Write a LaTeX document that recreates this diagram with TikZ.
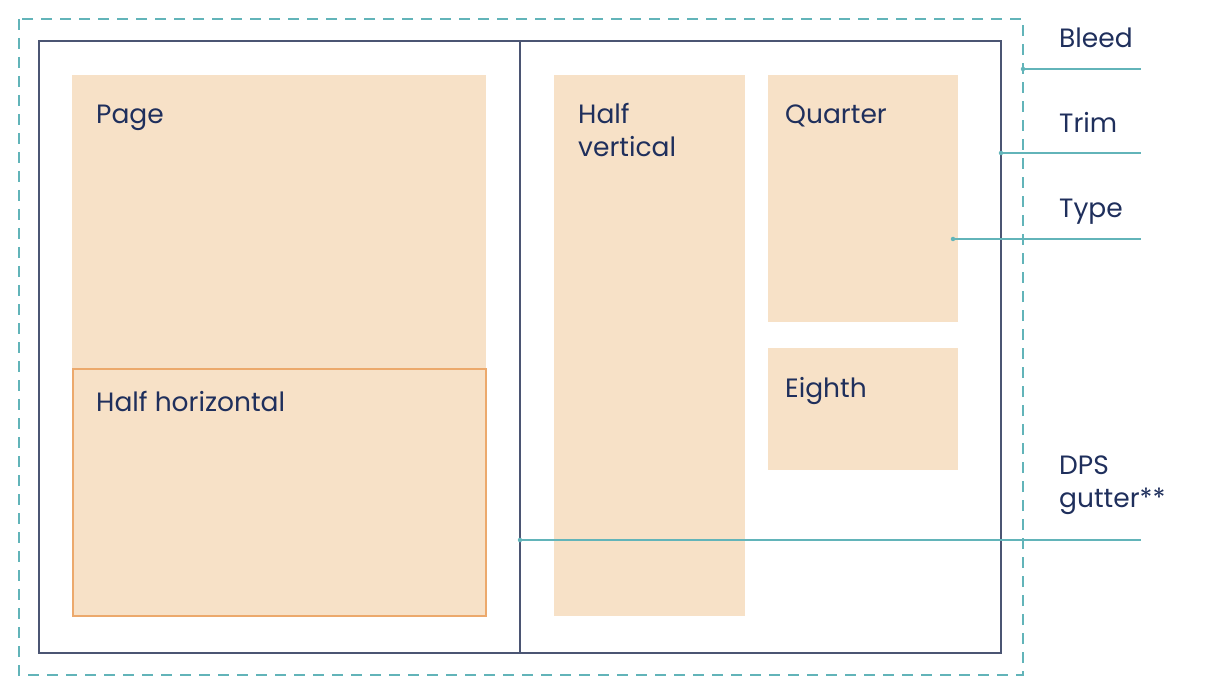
\documentclass[tikz,border=0pt]{standalone}
\usepackage{fontspec}
\setmainfont{Poppins}
\definecolor{bleedteal}{HTML}{62B4B9}
\definecolor{trimnavy}{HTML}{4B5573}
\definecolor{adfill}{HTML}{F7E1C7}
\definecolor{adedge}{HTML}{ECA96C}
\definecolor{inknavy}{HTML}{1F2F5C}
\tikzset{
    adbox/.style={fill=adfill, draw=none},
    adlabel/.style={anchor=base west, inner sep=0pt, text=inknavy, font=\fontsize{26.5}{33}\selectfont},
    sidelabel/.style={adlabel},
    leader/.style={draw=bleedteal, line width=1.2pt},
    leaderdot/.style={fill=bleedteal, circle, inner sep=0pt, minimum size=4.5pt},
}
\begin{document}
\begin{tikzpicture}[x=1pt, y=-1pt]
    \useasboundingbox (0, 0) rectangle (1206, 700);
    % bleed and trim
    \draw[bleedteal, line width=2.8pt, dash pattern=on 11pt off 8pt] (19, 19) rectangle (1023, 675);
    \draw[trimnavy, line width=1.4pt] (39, 41) rectangle (1001, 653);
    \coordinate (guttertop) at (520, 41);
    \coordinate (gutterbot) at (520, 653);
    \draw[trimnavy, line width=2.4pt] (guttertop) -- (gutterbot);
    % ad sizes
    \path[adbox] (72, 75) rectangle (486, 617);
    \draw[adedge, fill=adfill, line width=2.2pt] (73, 369) rectangle (486, 616);
    \path[adbox] (554, 75) rectangle (745, 616);
    \path[adbox] (768, 75) rectangle (958, 322);
    \path[adbox] (768, 348) rectangle (958, 470);
    \node[adlabel] (page) at (96, 124) {Page};
    \node[adlabel] (halfh) at (96, 411) {Half horizontal};
    \node[adlabel, align=left] (halfv) at (578, 157) {Half\\vertical};
    \node[adlabel] (quarter) at (785, 124) {Quarter};
    \node[adlabel] (eighth) at (785, 397) {Eighth};
    % labels on the right
    \node[sidelabel] (bleed) at (1059, 48) {Bleed};
    \node[sidelabel] (trim) at (1059, 133) {Trim};
    \node[sidelabel] (type) at (1059, 218) {Type};
    \node[sidelabel, align=left] (gutter) at (1059, 507) {DPS\\gutter**};
    % leader lines
    \node[leaderdot] (bleedpt) at (1023, 69) {};
    \node[leaderdot] (trimpt) at (1001, 153) {};
    \node[leaderdot] (typept) at (953, 239) {};
    \node[leaderdot] (gutterpt) at (520, 540) {};
    \coordinate (bleedend) at (1141, 69);
    \coordinate (trimend) at (1141, 153);
    \coordinate (typeend) at (1141, 239);
    \coordinate (gutterend) at (1141, 540);
    \path[leader] (bleedpt.center) -- (bleedend);
    \path[leader] (trimpt.center) -- (trimend);
    \path[leader] (typept.center) -- (typeend);
    \path[leader] (gutterpt.center) -- (gutterend);
\end{tikzpicture}
\end{document}
